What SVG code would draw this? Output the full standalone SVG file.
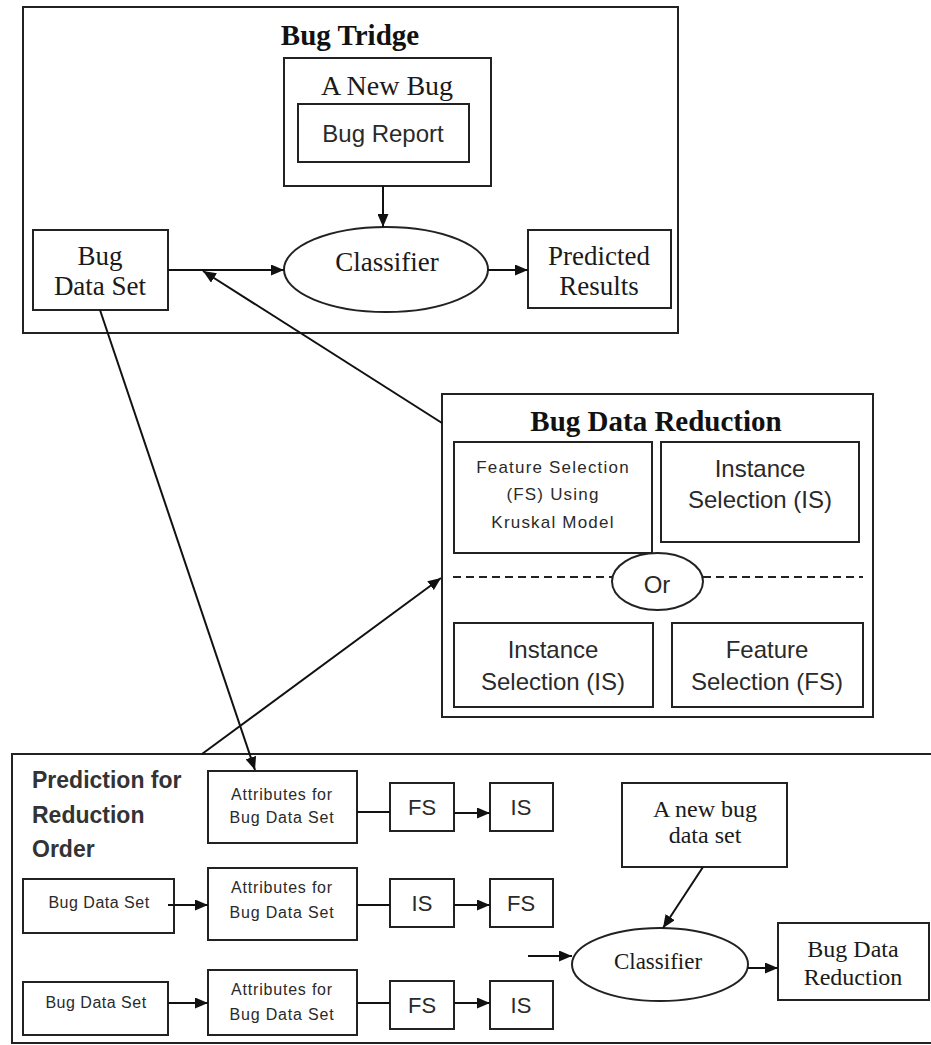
<svg xmlns="http://www.w3.org/2000/svg" width="931" height="1045" viewBox="0 0 931 1045">
<defs>
<marker id="ah" markerUnits="userSpaceOnUse" markerWidth="13" markerHeight="11" refX="13" refY="5.5" orient="auto">
<path d="M0,0 L13,5.5 L0,11 z" fill="#111"/>
</marker>
<style>
.n rect, .n ellipse { fill: #fff; stroke: #222; stroke-width: 2; }
.c line, .c path { stroke: #111; stroke-width: 2; fill: none; }
.a { marker-end: url(#ah); }
.serif { font-family: "Liberation Serif", "Times New Roman", serif; fill: #1a1a1a; text-anchor: middle; }
.sans { font-family: "Liberation Sans", Arial, sans-serif; fill: #2a2a2a; text-anchor: middle; }
.title { font-family: "Liberation Serif", "Times New Roman", serif; font-weight: bold; fill: #111; text-anchor: middle; font-size: 29px; }
.hd { font-family: "Liberation Sans", Arial, sans-serif; font-weight: bold; font-size: 23px; fill: #333; }
.dash { stroke: #222; stroke-width: 2; stroke-dasharray: 8 5; }
</style>
</defs>
<rect width="931" height="1045" fill="#fff"/>

<g class="n">
<g id="bug-tridge">
<rect x="23" y="7" width="655" height="326"/>
<text class="title" x="350" y="45">Bug Tridge</text>
</g>
<g id="a-new-bug">
<rect x="284" y="58" width="207" height="128"/>
<text class="serif" x="387" y="95" font-size="28">A New Bug</text>
</g>
<g id="bug-report">
<rect x="298" y="104" width="171" height="58"/>
<text class="sans" x="383" y="142" font-size="24">Bug Report</text>
</g>
<g id="classifier-top">
<ellipse cx="386" cy="269.5" rx="102" ry="42.5"/>
<text class="serif" x="387" y="271" font-size="27">Classifier</text>
</g>
<g id="bug-data-set-top">
<rect x="33" y="230" width="135" height="80"/>
<text class="serif" x="100" y="265" font-size="27">Bug</text>
<text class="serif" x="100" y="295" font-size="27">Data Set</text>
</g>
<g id="predicted-results">
<rect x="528" y="230" width="143" height="78"/>
<text class="serif" x="599" y="265" font-size="27">Predicted</text>
<text class="serif" x="599" y="295" font-size="27">Results</text>
</g>

<g id="bug-data-reduction">
<rect x="442" y="394" width="431" height="323"/>
<text class="title" x="656" y="431">Bug Data Reduction</text>
<line class="dash" x1="453" y1="577" x2="612" y2="577"/>
<line class="dash" x1="703" y1="577" x2="863" y2="577"/>
</g>
<g id="fs-kruskal">
<rect x="454" y="442" width="198" height="111"/>
<text class="sans" x="553" y="473" font-size="17" letter-spacing="1.2">Feature Selection</text>
<text class="sans" x="553" y="500" font-size="17" letter-spacing="1.2">(FS) Using</text>
<text class="sans" x="553" y="528" font-size="17" letter-spacing="1.2">Kruskal Model</text>
</g>
<g id="is-top">
<rect x="661" y="442" width="198" height="100"/>
<text class="sans" x="760" y="477" font-size="24">Instance</text>
<text class="sans" x="760" y="508" font-size="24">Selection (IS)</text>
</g>
<g id="or">
<ellipse cx="657.5" cy="581.5" rx="45.5" ry="28.5"/>
<text class="sans" x="657" y="593" font-size="24">Or</text>
</g>
<g id="is-bottom">
<rect x="454" y="623" width="199" height="84"/>
<text class="sans" x="553" y="658" font-size="24">Instance</text>
<text class="sans" x="553" y="690" font-size="24">Selection (IS)</text>
</g>
<g id="fs-bottom">
<rect x="672" y="623" width="191" height="84"/>
<text class="sans" x="767" y="658" font-size="24">Feature</text>
<text class="sans" x="767" y="690" font-size="24">Selection (FS)</text>
</g>

<g id="prediction-for-reduction-order">
<rect x="12" y="754" width="930" height="289"/>
<text class="hd" x="32" y="788">Prediction for</text>
<text class="hd" x="32" y="823">Reduction</text>
<text class="hd" x="32" y="857">Order</text>
</g>
<g id="attr-1">
<rect x="208" y="771" width="149" height="72"/>
<text class="sans" x="282" y="800" font-size="16" letter-spacing="0.8">Attributes for</text>
<text class="sans" x="282" y="823" font-size="16" letter-spacing="0.8">Bug Data Set</text>
</g>
<g id="fs-1"><rect x="390" y="783" width="64" height="48"/><text class="sans" x="422" y="815" font-size="22">FS</text></g>
<g id="is-1"><rect x="490" y="783" width="63" height="48"/><text class="sans" x="521" y="815" font-size="22">IS</text></g>

<g id="bds-2">
<rect x="23" y="879" width="151" height="54"/>
<text class="sans" x="99" y="908" font-size="16" letter-spacing="0.5">Bug Data Set</text>
</g>
<g id="attr-2">
<rect x="208" y="868" width="149" height="72"/>
<text class="sans" x="282" y="893" font-size="16" letter-spacing="0.8">Attributes for</text>
<text class="sans" x="282" y="918" font-size="16" letter-spacing="0.8">Bug Data Set</text>
</g>
<g id="is-2"><rect x="390" y="879" width="64" height="48"/><text class="sans" x="422" y="911" font-size="22">IS</text></g>
<g id="fs-2"><rect x="490" y="879" width="63" height="48"/><text class="sans" x="521" y="911" font-size="22">FS</text></g>

<g id="bds-3">
<rect x="23" y="982" width="145" height="53"/>
<text class="sans" x="96" y="1008" font-size="16" letter-spacing="0.5">Bug Data Set</text>
</g>
<g id="attr-3">
<rect x="208" y="970" width="149" height="65"/>
<text class="sans" x="282" y="995" font-size="16" letter-spacing="0.8">Attributes for</text>
<text class="sans" x="282" y="1020" font-size="16" letter-spacing="0.8">Bug Data Set</text>
</g>
<g id="fs-3"><rect x="390" y="981" width="64" height="48"/><text class="sans" x="422" y="1013" font-size="22">FS</text></g>
<g id="is-3"><rect x="490" y="981" width="63" height="48"/><text class="sans" x="521" y="1013" font-size="22">IS</text></g>

<g id="a-new-bug-data-set">
<rect x="622" y="783" width="165" height="84"/>
<text class="serif" x="705" y="817" font-size="24">A new bug</text>
<text class="serif" x="705" y="843" font-size="24">data set</text>
</g>
<g id="classifier-bottom">
<ellipse cx="660" cy="964.5" rx="88" ry="36.5"/>
<text class="serif" x="658" y="969" font-size="23">Classifier</text>
</g>
<g id="bug-data-reduction-result">
<rect x="778" y="923" width="151" height="77"/>
<text class="serif" x="853" y="957" font-size="24">Bug Data</text>
<text class="serif" x="853" y="985" font-size="24">Reduction</text>
</g>
</g>

<g id="connectors" class="c">
<line class="a" x1="383" y1="186" x2="383" y2="227"/>
<line class="a" x1="168" y1="270" x2="284" y2="270"/>
<line class="a" x1="488" y1="270" x2="528" y2="270"/>
<line class="a" x1="442" y1="423" x2="203" y2="271"/>
<line class="a" x1="100" y1="310" x2="255" y2="770"/>
<line class="a" x1="202" y1="754" x2="441" y2="578"/>
<line x1="357" y1="812" x2="390" y2="812"/>
<line class="a" x1="454" y1="813" x2="490" y2="813"/>
<line class="a" x1="168" y1="905" x2="208" y2="905"/>
<line x1="357" y1="905" x2="390" y2="905"/>
<line class="a" x1="454" y1="905" x2="490" y2="905"/>
<line class="a" x1="168" y1="1003" x2="208" y2="1003"/>
<line x1="357" y1="1003" x2="390" y2="1003"/>
<line class="a" x1="454" y1="1003" x2="490" y2="1003"/>
<line class="a" x1="703" y1="867" x2="663" y2="928"/>
<line class="a" x1="528" y1="956" x2="572" y2="956"/>
<line class="a" x1="748" y1="968" x2="778" y2="968"/>
</g>
</svg>
